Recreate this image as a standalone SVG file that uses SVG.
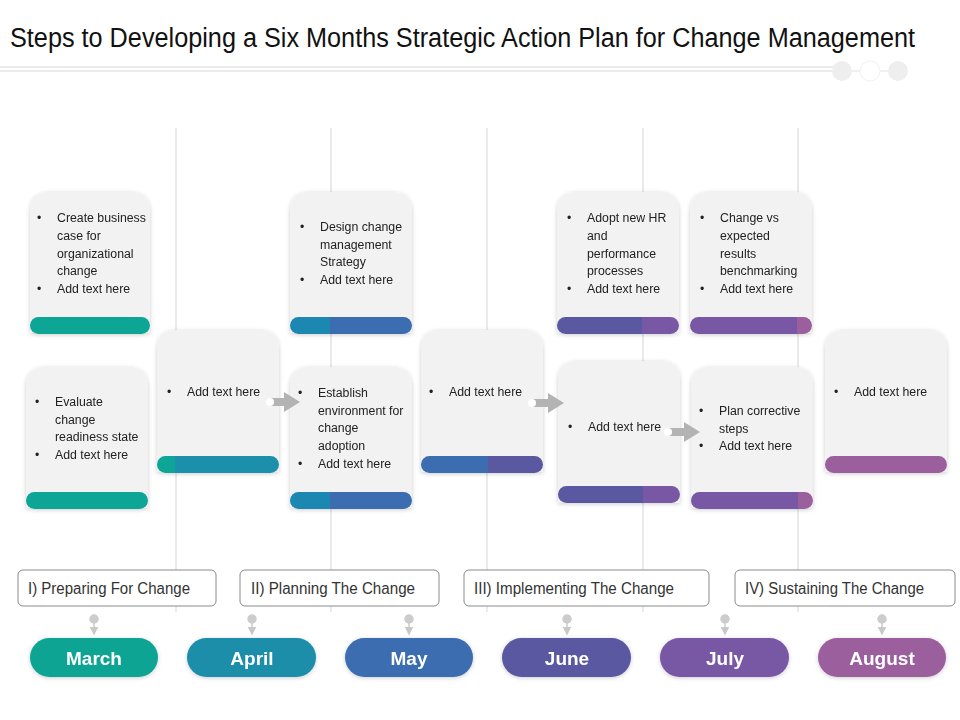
<svg xmlns="http://www.w3.org/2000/svg" width="960" height="720" viewBox="0 0 960 720">
<defs>
<style>
.t{font-family:"Liberation Sans",Arial,sans-serif;fill:#222;font-size:12.3px}
.ph{font-family:"Liberation Sans",Arial,sans-serif;fill:#333;font-size:16px}
.mo{font-family:"Liberation Sans",Arial,sans-serif;fill:#fff;font-size:19px;font-weight:bold;text-anchor:middle}
.card{fill:#f2f2f2}
.vl{stroke:#dcdcdc;stroke-width:1.2}
.pbox{fill:#fff;stroke:#8a8a8a;stroke-width:1}
.arr{fill:#b3b3b3}
</style>
<filter id="sh" x="-20%" y="-20%" width="140%" height="140%"><feDropShadow dx="0" dy="1" stdDeviation="2" flood-opacity="0.2"/></filter>
<linearGradient id="g1"><stop offset="0" stop-color="#0ea595"/><stop offset="1" stop-color="#0ea595"/></linearGradient>
<linearGradient id="g2"><stop offset="0" stop-color="#0ea595"/><stop offset="0.15" stop-color="#0ea595"/><stop offset="0.15" stop-color="#1a8fab"/><stop offset="1" stop-color="#1a8fab"/></linearGradient>
<linearGradient id="g3"><stop offset="0" stop-color="#1c88b2"/><stop offset="0.33" stop-color="#1c88b2"/><stop offset="0.33" stop-color="#3a6db0"/><stop offset="1" stop-color="#3a6db0"/></linearGradient>
<linearGradient id="g4"><stop offset="0" stop-color="#3a6db0"/><stop offset="0.55" stop-color="#3a6db0"/><stop offset="0.55" stop-color="#5a58a0"/><stop offset="1" stop-color="#5a58a0"/></linearGradient>
<linearGradient id="g5"><stop offset="0" stop-color="#5a58a0"/><stop offset="0.7" stop-color="#5a58a0"/><stop offset="0.7" stop-color="#7858a5"/><stop offset="1" stop-color="#7858a5"/></linearGradient>
<linearGradient id="g6"><stop offset="0" stop-color="#7858a5"/><stop offset="0.88" stop-color="#7858a5"/><stop offset="0.88" stop-color="#9c5f9d"/><stop offset="1" stop-color="#9c5f9d"/></linearGradient>
<linearGradient id="g7"><stop offset="0" stop-color="#9c5f9d"/><stop offset="1" stop-color="#9c5f9d"/></linearGradient>
<marker id="ah" markerWidth="6" markerHeight="6" refX="3" refY="3" orient="auto"><path d="M0,0 L6,3 L0,6 z" fill="#c8c8c8"/></marker>
</defs>
<rect width="960" height="720" fill="#fff"/>
<text x="10" y="47" font-family="'Liberation Sans',Arial,sans-serif" font-size="27" fill="#111" textLength="905" lengthAdjust="spacingAndGlyphs">Steps to Developing a Six Months Strategic Action Plan for Change Management</text>
<line x1="0" y1="67" x2="842" y2="67" stroke="#d8d8d8" stroke-width="1"/>
<line x1="0" y1="71" x2="842" y2="71" stroke="#d8d8d8" stroke-width="1"/>
<line x1="842" y1="71" x2="898" y2="71" stroke="#e0e0e0" stroke-width="1"/>
<circle cx="842" cy="71" r="10" fill="#eeeeee"/>
<circle cx="870" cy="71" r="10" fill="#ffffff" stroke="#f2f2f2"/>
<circle cx="898" cy="71" r="10" fill="#eeeeee"/>

<g id="gridlines">
<line class="vl" x1="176" y1="128" x2="176" y2="612"/>
<line class="vl" x1="331" y1="128" x2="331" y2="612"/>
<line class="vl" x1="487" y1="128" x2="487" y2="612"/>
<line class="vl" x1="643" y1="128" x2="643" y2="612"/>
<line class="vl" x1="798" y1="128" x2="798" y2="612"/>
</g>

<g id="card1" filter="url(#sh)"><path class="card" d="M30,333 V212 Q30,192 50,192 H130 Q150,192 150,212 V333 Z"/><rect x="30" y="317" width="120" height="17" rx="8.5" fill="url(#g1)"/>
<text class="t"><tspan x="37" y="222">•</tspan><tspan x="57" y="222">Create business</tspan><tspan x="57" y="240">case for</tspan><tspan x="57" y="258">organizational</tspan><tspan x="57" y="275">change</tspan><tspan x="37" y="293">•</tspan><tspan x="57" y="293">Add text here</tspan></text></g>

<g id="card2" filter="url(#sh)"><path class="card" d="M26,508 V387 Q26,367 46,367 H128 Q148,367 148,387 V508 Z"/><rect x="26" y="492" width="122" height="17" rx="8.5" fill="url(#g1)"/>
<text class="t"><tspan x="35" y="406">•</tspan><tspan x="55" y="406">Evaluate</tspan><tspan x="55" y="424">change</tspan><tspan x="55" y="441">readiness state</tspan><tspan x="35" y="459">•</tspan><tspan x="55" y="459">Add text here</tspan></text></g>

<g id="card3" filter="url(#sh)"><path class="card" d="M157,472 V350 Q157,330 177,330 H259 Q279,330 279,350 V472 Z"/><rect x="157" y="456" width="122" height="17" rx="8.5" fill="url(#g2)"/>
<text class="t"><tspan x="167" y="396">•</tspan><tspan x="187" y="396">Add text here</tspan></text></g>

<g id="card4" filter="url(#sh)"><path class="card" d="M290,333 V212 Q290,192 310,192 H392 Q412,192 412,212 V333 Z"/><rect x="290" y="317" width="122" height="17" rx="8.5" fill="url(#g3)"/>
<text class="t"><tspan x="300" y="231">•</tspan><tspan x="320" y="231">Design change</tspan><tspan x="320" y="249">management</tspan><tspan x="320" y="266">Strategy</tspan><tspan x="300" y="284">•</tspan><tspan x="320" y="284">Add text here</tspan></text></g>

<g id="card5" filter="url(#sh)"><path class="card" d="M290,508 V387 Q290,367 310,367 H392 Q412,367 412,387 V508 Z"/><rect x="290" y="492" width="122" height="17" rx="8.5" fill="url(#g3)"/>
<text class="t"><tspan x="298" y="397">•</tspan><tspan x="318" y="397">Establish</tspan><tspan x="318" y="415">environment for</tspan><tspan x="318" y="432">change</tspan><tspan x="318" y="450">adoption</tspan><tspan x="298" y="468">•</tspan><tspan x="318" y="468">Add text here</tspan></text></g>

<g id="card6" filter="url(#sh)"><path class="card" d="M421,472 V350 Q421,330 441,330 H523 Q543,330 543,350 V472 Z"/><rect x="421" y="456" width="122" height="17" rx="8.5" fill="url(#g4)"/>
<text class="t"><tspan x="429" y="396">•</tspan><tspan x="449" y="396">Add text here</tspan></text></g>

<g id="card7" filter="url(#sh)"><path class="card" d="M557,333 V212 Q557,192 577,192 H659 Q679,192 679,212 V333 Z"/><rect x="557" y="317" width="122" height="17" rx="8.5" fill="url(#g5)"/>
<text class="t"><tspan x="567" y="222">•</tspan><tspan x="587" y="222">Adopt new HR</tspan><tspan x="587" y="240">and</tspan><tspan x="587" y="258">performance</tspan><tspan x="587" y="275">processes</tspan><tspan x="567" y="293">•</tspan><tspan x="587" y="293">Add text here</tspan></text></g>

<g id="card8" filter="url(#sh)"><path class="card" d="M558,503 V381 Q558,361 578,361 H660 Q680,361 680,381 V503 Z"/><rect x="558" y="486" width="122" height="17" rx="8.5" fill="url(#g5)"/>
<text class="t"><tspan x="568" y="431">•</tspan><tspan x="588" y="431">Add text here</tspan></text></g>

<g id="card9" filter="url(#sh)"><path class="card" d="M690,333 V212 Q690,192 710,192 H792 Q812,192 812,212 V333 Z"/><rect x="690" y="317" width="122" height="17" rx="8.5" fill="url(#g6)"/>
<text class="t"><tspan x="700" y="222">•</tspan><tspan x="720" y="222">Change vs</tspan><tspan x="720" y="240">expected</tspan><tspan x="720" y="258">results</tspan><tspan x="720" y="275">benchmarking</tspan><tspan x="700" y="293">•</tspan><tspan x="720" y="293">Add text here</tspan></text></g>

<g id="card10" filter="url(#sh)"><path class="card" d="M691,508 V387 Q691,367 711,367 H793 Q813,367 813,387 V508 Z"/><rect x="691" y="492" width="122" height="17" rx="8.5" fill="url(#g6)"/>
<text class="t"><tspan x="699" y="415">•</tspan><tspan x="719" y="415">Plan corrective</tspan><tspan x="719" y="433">steps</tspan><tspan x="699" y="450">•</tspan><tspan x="719" y="450">Add text here</tspan></text></g>

<g id="card11" filter="url(#sh)"><path class="card" d="M825,472 V350 Q825,330 845,330 H927 Q947,330 947,350 V472 Z"/><rect x="825" y="456" width="122" height="17" rx="8.5" fill="url(#g7)"/>
<text class="t"><tspan x="834" y="396">•</tspan><tspan x="854" y="396">Add text here</tspan></text></g>

<g id="connectors">
<path class="arr" d="M270,398 H284 V392 L300,402 L284,412 V406 H270 Z"/>
<circle cx="270" cy="402" r="4" fill="#fff"/>
<path class="arr" d="M532,399 H548 V393 L564,403 L548,413 V407 H532 Z"/>
<circle cx="532" cy="403" r="4" fill="#fff"/>
<path class="arr" d="M668,428 H684 V422 L700,432 L684,442 V436 H668 Z"/>
<circle cx="668" cy="432" r="4" fill="#fff"/>
<g stroke="#cccccc" stroke-width="1.5" fill="#cccccc">
<circle cx="94" cy="619" r="4"/><line x1="94" y1="619" x2="94" y2="631" marker-end="url(#ah)"/>
<circle cx="252" cy="619" r="4"/><line x1="252" y1="619" x2="252" y2="631" marker-end="url(#ah)"/>
<circle cx="409" cy="619" r="4"/><line x1="409" y1="619" x2="409" y2="631" marker-end="url(#ah)"/>
<circle cx="567" cy="619" r="4"/><line x1="567" y1="619" x2="567" y2="631" marker-end="url(#ah)"/>
<circle cx="725" cy="619" r="4"/><line x1="725" y1="619" x2="725" y2="631" marker-end="url(#ah)"/>
<circle cx="882" cy="619" r="4"/><line x1="882" y1="619" x2="882" y2="631" marker-end="url(#ah)"/>
</g>
</g>

<g id="phase1"><rect class="pbox" x="18" y="570" width="198" height="36" rx="5"/><text class="ph" x="28" y="594" textLength="162" lengthAdjust="spacingAndGlyphs">I) Preparing For Change</text></g>
<g id="phase2"><rect class="pbox" x="240" y="570" width="199" height="36" rx="5"/><text class="ph" x="251" y="594" textLength="164" lengthAdjust="spacingAndGlyphs">II) Planning The Change</text></g>
<g id="phase3"><rect class="pbox" x="464" y="570" width="245" height="36" rx="5"/><text class="ph" x="474" y="594" textLength="200" lengthAdjust="spacingAndGlyphs">III) Implementing The Change</text></g>
<g id="phase4"><rect class="pbox" x="735" y="570" width="220" height="36" rx="5"/><text class="ph" x="745" y="594" textLength="179" lengthAdjust="spacingAndGlyphs">IV) Sustaining The Change</text></g>

<g id="m1" filter="url(#sh)"><rect x="30" y="638" width="128" height="39" rx="19.5" fill="#0ca494"/><text class="mo" x="94" y="665">March</text></g>
<g id="m2" filter="url(#sh)"><rect x="187" y="638" width="129" height="39" rx="19.5" fill="#1a8eaa"/><text class="mo" x="252" y="665">April</text></g>
<g id="m3" filter="url(#sh)"><rect x="345" y="638" width="128" height="39" rx="19.5" fill="#3a6db0"/><text class="mo" x="409" y="665">May</text></g>
<g id="m4" filter="url(#sh)"><rect x="502" y="638" width="129" height="39" rx="19.5" fill="#5a58a0"/><text class="mo" x="567" y="665">June</text></g>
<g id="m5" filter="url(#sh)"><rect x="660" y="638" width="129" height="39" rx="19.5" fill="#7858a5"/><text class="mo" x="725" y="665">July</text></g>
<g id="m6" filter="url(#sh)"><rect x="818" y="638" width="128" height="39" rx="19.5" fill="#9c5f9d"/><text class="mo" x="882" y="665">August</text></g>
</svg>
